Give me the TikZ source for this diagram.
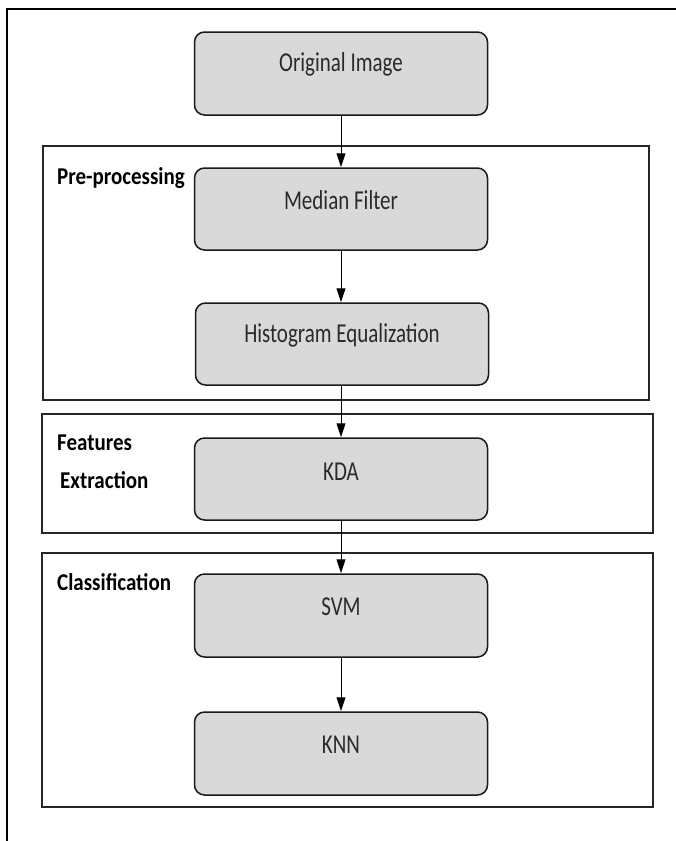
\documentclass[tikz,border=0pt]{standalone}
\usepackage{fontspec}
\setmainfont{Carlito}
\usetikzlibrary{arrows.meta}
\definecolor{boxgray}{HTML}{D9D9D9}
\definecolor{txtgray}{HTML}{2A2A2A}
\begin{document}
\begin{tikzpicture}[x=1pt,y=-1pt,
  stagebox/.style={draw=black!90, line width=1.5pt, fill=boxgray, rounded corners=10pt,
    minimum width=293pt, minimum height=82pt, inner sep=0pt},
  boxtext/.style={font=\fontsize{21}{25}\selectfont, text=txtgray, inner sep=0pt},
  framebox/.style={draw=black!85, line width=1.2pt},
  lbl/.style={font=\fontsize{21}{25}\selectfont\bfseries, anchor=west, inner sep=0pt},
  flow/.style={-{Triangle[length=14pt,width=9pt]}, line width=1pt}]
\useasboundingbox (0,0) rectangle (676,841);
% outer frame (cropped)
\coordinate (ftr) at (676,9);
\coordinate (ftl) at (7,9);
\coordinate (fbl) at (7,841);
\draw[line width=1.5pt] (ftr) -- (ftl) -- (fbl);
% stage frames
\draw[framebox] (43,146) rectangle (649,400);
\draw[framebox] (42,414) rectangle (653,533);
\draw[framebox] (42,553) rectangle (653,807);
% labels
\node[lbl] (lpre) at (57,178) {\scalebox{1}[1.15]{Pre-processing}};
\node[lbl] (lfeat) at (57,443) {\scalebox{1}[1.15]{Features}};
\node[lbl] (lext) at (60,480) {\scalebox{1}[1.15]{Extraction}};
\node[lbl] (lcls) at (57,582) {\scalebox{1}[1.15]{Classification}};
% boxes
\node[stagebox, minimum height=83pt] (orig) at (341,73.5) {};
\node[stagebox] (median) at (341,209) {};
\node[stagebox] (hist) at (342,344) {};
\node[stagebox] (kda) at (341,479) {};
\node[stagebox, minimum height=83pt] (svm) at (341,615.5) {};
\node[stagebox, minimum height=83pt] (knn) at (341,753.5) {};
% box texts
\node[boxtext] (torig) at ([yshift=9pt]orig.center) {\scalebox{1}[1.3]{Original Image}};
\node[boxtext] (tmedian) at ([yshift=9pt]median.center) {\scalebox{1}[1.3]{Median Filter}};
\node[boxtext] (thist) at ([yshift=9pt]hist.center) {\scalebox{1}[1.3]{Histogram Equalization}};
\node[boxtext] (tkda) at ([yshift=7pt]kda.center) {\scalebox{1}[1.3]{KDA}};
\node[boxtext] (tsvm) at ([yshift=9pt]svm.center) {\scalebox{1}[1.3]{SVM}};
\node[boxtext] (tknn) at ([yshift=9pt]knn.center) {\scalebox{1}[1.3]{KNN}};
% connectors
\draw[flow] (orig.south) -- (median.north);
\draw[flow] (median.south) -- (median.south |- hist.north);
\draw[flow] (median.south |- hist.south) -- (median.south |- kda.north);
\draw[flow] (kda.south) -- (svm.north);
\draw[flow] (svm.south) -- (knn.north);
\end{tikzpicture}
\end{document}
